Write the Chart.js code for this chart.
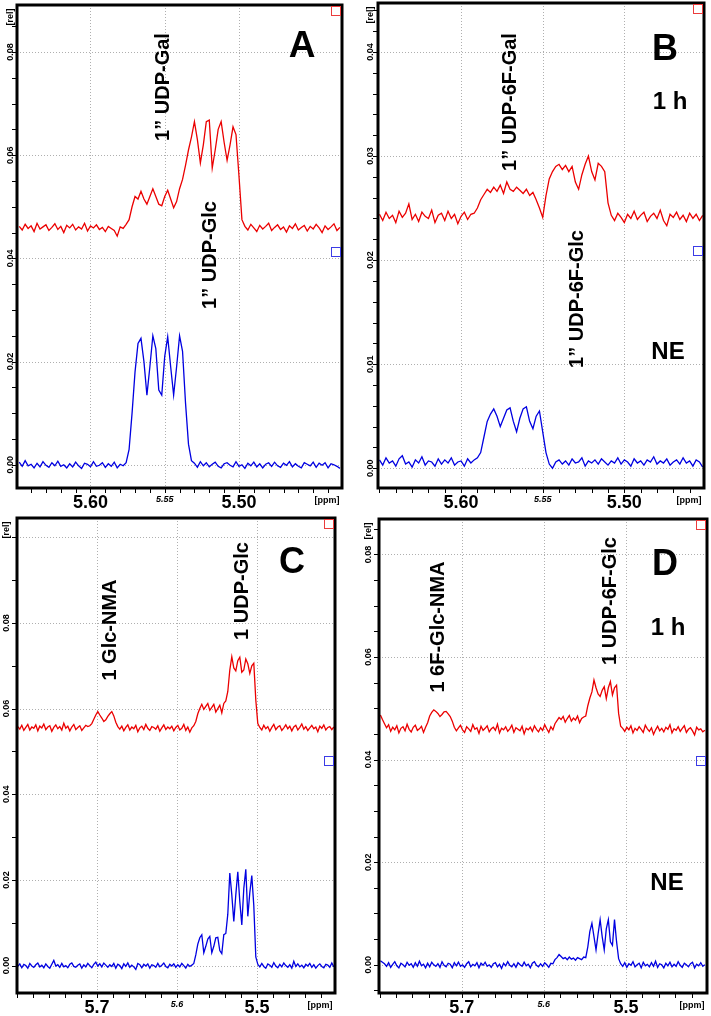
<!DOCTYPE html>
<html>
<head>
<meta charset="utf-8">
<script src="https://cdn.jsdelivr.net/npm/chart.js@4.4.1/dist/chart.umd.min.js"></script>
<style>
    body { margin: 0; background: #fff; }
    #wrap { position: relative; width: 711px; height: 1016px; }
    canvas { position: absolute; }
</style>
</head>
<body>
<div id="wrap">
    <canvas id="panelA" width="355" height="512" style="left:0;top:0"></canvas>
    <canvas id="panelB" width="356" height="512" style="left:355px;top:0"></canvas>
    <canvas id="panelC" width="355" height="504" style="left:0;top:512px"></canvas>
    <canvas id="panelD" width="356" height="504" style="left:355px;top:512px"></canvas>
</div>
<script>
// chemical shift of the first point [ppm] and point spacing, per panel
const ppmA = [5.648, 0.002];
const ppmB = [5.650, 0.002];
const ppmCD = [5.799, 0.0025];

// intensities in 1e-4 rel units
// A: red = 1 h sample, blue = reference
const redA = [
    462, 455, 466, 458, 463, 452, 468, 457, 461, 465, 454, 460, 467, 456, 462, 450, 464, 459, 466, 455,
    461, 457, 468, 453, 463, 459, 465, 456, 460, 452, 462, 458, 454, 443, 461, 458, 466,
    475, 500, 520, 515, 530, 515, 505, 520, 535, 520, 505, 502, 520, 532, 515, 498, 510, 535, 553,
    580, 610, 635, 665, 630, 585, 620, 665, 668, 575, 610, 650, 665, 625, 590, 620, 655, 640, 560, 475, 462,
    455, 466, 459, 452, 464, 457, 462, 468, 454, 460, 465, 456, 461, 451, 463, 458, 467, 455, 460, 464,
    453, 462, 457, 466, 459, 450, 463, 456, 461, 467, 454, 460
];
const blueA = [
    5, -3, 8, -2, 1, -6, 3, -4, 6, -1, -5, 4, -2, 7, -3, 0, -6, 2, -4, 5,
    -2, -7, 3, 1, -4, 6, -3, -1, 4, -5, 2, -3, 5, -6, 1, -2,
    4, 30, 100, 180, 235, 245, 200, 135, 190, 250, 225, 145, 135, 210, 248, 190, 135, 190, 250, 220, 120, 40, 8,
    3, -5, 6, -2, 4, -4, 1, 5, -3, -6, 2, 4, -1, -4, 6, -3, 0, -7, 3, -2,
    5, -4, 2, -6, 1, 4, -3, 5, -2, -5, 3, -1, 6, -4, 2, -3, -6, 4, 1, -2,
    5, -5, 3, -1, 4, -6, 2, 0, -3, -7
];

// B
const redB = [
    244, 238, 246, 240, 243, 236, 247, 241, 245, 254, 239, 244, 237, 246, 242, 240, 248, 236, 243, 245,
    238, 247, 240, 244, 235, 242, 246, 239, 244,
    245, 250, 258, 263, 268, 265, 270, 266, 272, 264, 275, 268, 266, 270, 267, 264, 268, 262, 265, 258,
    250, 241, 262, 278, 285, 290, 292, 287, 291, 285, 290, 275, 268, 282, 292, 300, 285, 277, 293, 290,
    285, 255, 243,
    238, 245, 241, 236, 244, 240, 247, 239, 243, 246, 237, 242, 245, 240, 248, 238, 233, 244, 241, 246,
    239, 243, 237, 245, 240, 244, 238, 243
];
const blueB = [
    8, 3, 10, 5, 7, 2, 9, 12, 4, 6, 1, 8, 5, 11, 3, 7, 6, 2, 9, 4,
    8, 5, 10, 3, 6, 7, 2, 9, 5, 8,
    10, 15, 30, 45, 52, 57, 50, 40, 48, 56, 58, 45, 35, 48, 57, 59, 45, 38, 50, 55, 35, 15, 4, 0, 6,
    8, 4, 7, 3, 9, 5, 6, 10, 2, 7, 5, 8, 4, 9, 6, 3, 7, 5, 10, 4,
    8, 6, 2, 9, 5, 7, 3, 8, 6, 11, 4, 7, 5, 9, 3, 6, 8, 4, 10, 5, 7, 2, 8, 6, 1
];

// C
const redC = [
    558, 552, 561, 549, 556, 563, 550, 557, 554, 562, 548, 559, 555, 564, 551, 557, 560, 547, 556, 562,
    553, 558, 550, 566, 554, 559, 548, 557, 563, 551, 556, 560, 549, 555, 561, 558,
    560, 565, 575, 585, 593, 585, 578, 570, 574, 582, 588, 593, 583, 568, 558,
    552, 559, 548, 556, 562, 550, 557, 553, 561, 546, 555, 559, 551, 563, 554, 549, 558, 556, 552, 560,
    547, 555, 562, 551, 557, 553, 559, 548, 556, 561, 550, 554, 563, 549, 557, 545, 555,
    560, 570, 588, 600, 610, 598, 605, 612, 596, 603, 610, 592, 600, 608, 590, 612, 618, 640, 690, 721,
    695, 688, 712, 720, 685, 690, 716, 705, 682, 700, 706, 620, 565, 556,
    550, 561, 553, 558, 547, 556, 563, 551, 557, 560, 549, 555, 562, 553, 559, 548, 557, 561, 550, 556,
    564, 552, 558, 549, 555, 561, 553, 557, 546, 559, 554, 562, 550, 556, 558, 551, 557
];
const blueC = [
    -2, 4, -5, 3, 0, -6, 5, -1, -4, 2, 6, -3, 1, -5, 4, -2, -6, 3, 12, -1,
    2, -4, 5, -3, 0, -5, 3, 6, -2, -4, 1, 4, -6, 2, -3, 5, 0, -5, 3, 8,
    -1, 4, -3, 6, 1, -4, 2, -2, 5, -6, 3, 0, -7, 4, -2, 6, -4, 1, -3, -9,
    5, 2, -5, 3, -1, 4, -6, 2, 0, -4, 5, -3, 1, 6, -2, -5, 3, -1, 4, -4,
    2, -3, 5, 0, -6, 3, -2, 1,
    5, 25, 50, 65, 72, 30, 45, 62, 68, 30, 45, 65, 66, 35, 28, 72, 75, 120, 216, 165,
    103, 165, 219, 150, 95, 180, 225, 115, 170, 210, 140, 20, 3,
    -3, 5, -2, -6, 4, 1, -4, 7, -1, -5, 3, -3, 6, 0, -4, 2, -6, 10, -2, 4,
    -3, 1, -5, 3, -1, 5, -4, 2, -6, 0, 4, -2, -5, 3, 1, -4, 6, -3
];

// D
const redD = [
    487, 478, 470, 462, 468, 455, 463, 458, 466, 452, 461, 464, 456, 469, 459, 454, 463, 467, 457, 460,
    465, 453,
    463, 472, 485, 492, 497, 494, 490, 484, 488, 493, 494, 489, 484, 475, 463,
    456, 462, 467, 458, 453, 464, 460, 455, 468, 459, 462, 451, 465, 457, 461, 466, 454, 460, 463, 457,
    469, 452, 461, 458, 464, 455, 460, 467, 453, 462, 459, 456, 465, 450, 461, 458, 463, 455, 466, 459,
    454, 462, 457, 468, 460, 453, 464, 458,
    470, 476, 482, 478, 484, 473, 480, 486, 475, 481, 477, 485, 472, 480, 483, 485,
    505, 520, 532, 555, 540, 528, 523, 535, 542, 519, 540, 552, 526, 540, 545, 490, 465, 461,
    455, 463, 458, 466, 452, 461, 457, 464, 459, 453, 467, 460, 455, 462, 449, 458, 465, 456, 461, 454,
    463, 459, 468, 452, 460, 457, 464, 455, 461, 466, 453, 459, 462, 456, 448, 463, 458, 460, 454, 457
];
const blueD = [
    8, 5, 2, -3, 4, -5, 1, 6, -2, -6, 3, 0, -4, 5, -1, 2, -5, 4, -3, 7,
    -2, 1, -6, 3, -4, 5, 0, -3, 2, -5, 6, -1, -4, 3, 1, -6, 4, -2, 5, -3,
    0, -5, 2, 6, -4, 1, -2, 4, -6, 3, -1, 5, -3, 0, -5, 2, 4, -4, 1, -7,
    3, -2, 6, -1, -4, 2, -5, 4, 0, -3, 5, -2, 1, -6, 3, 6, -1, -4, 2, -3,
    4, 0, -5, 3,
    2, 10, 14, 20, 16, 12, 14, 10, 15, 11, 13, 9, 14, 12, 10, 15, 14, 35, 65, 81,
    55, 29, 60, 88, 55, 29, 70, 88, 45, 38, 88, 45, 12, 2,
    -3, 4, -5, 2, -1, 6, -4, 0, 3, -6, 5, -2, 1, -4, 4, -3, 7, -5, 2, 0,
    -6, 3, -2, 5, -4, 1, -3, 6, -1, -5, 3, 0, -4, 2, 5, -6, 1, -2, 4, -3, 0
];

// axis tick labels
const xLabelsAB = ['5.60', '5.55', '5.50'];
const xLabelsCD = ['5.7', '5.6', '5.5'];
const yLabelsA = ['0.00', '0.02', '0.04', '0.06', '0.08'];
const yLabelsB = ['0.00', '0.01', '0.02', '0.03', '0.04'];
const yLabelsC = ['0.00', '0.02', '0.04', '0.06', '0.08'];
const yLabelsD = ['0.00', '0.02', '0.04', '0.06', '0.08'];

const RED = 'rgb(235, 0, 0)';
const BLUE = 'rgb(0, 0, 225)';
const GRID = 'rgb(175, 175, 175)';
const FONT = "'Liberation Sans', Arial, sans-serif";

// grid, ticks, frame, trace markers, axis texts and peak labels
function decor(p) {
    return {
        id: 'decor',
        beforeDatasetsDraw(chart) {
            const { ctx, chartArea: { left, top, right, bottom }, scales: { x, y } } = chart;
            ctx.save();
            ctx.beginPath();
            ctx.rect(left, top, right - left, bottom - top);
            ctx.clip();
            ctx.strokeStyle = GRID;
            ctx.lineWidth = 1;
            ctx.setLineDash([1, 2]);
            p.xLabels.forEach(t => {
                const px = Math.round(x.getPixelForValue(parseFloat(t))) + 0.5;
                ctx.beginPath(); ctx.moveTo(px, top); ctx.lineTo(px, bottom); ctx.stroke();
            });
            p.yGrid.forEach(v => {
                const py = Math.round(y.getPixelForValue(v)) + 0.5;
                ctx.beginPath(); ctx.moveTo(left, py); ctx.lineTo(right, py); ctx.stroke();
            });
            ctx.restore();
        },
        afterDraw(chart) {
            const { ctx, chartArea: { left, top, right, bottom }, scales: { x, y } } = chart;
            ctx.save();

            // tick marks outside the frame
            ctx.strokeStyle = '#000';
            ctx.lineWidth = 1;
            for (let k = Math.ceil(x.min / p.xStep - 1e-6); k * p.xStep <= x.max + 1e-9; k++) {
                const px = Math.round(x.getPixelForValue(k * p.xStep)) + 0.5;
                ctx.beginPath(); ctx.moveTo(px, bottom); ctx.lineTo(px, bottom + 5); ctx.stroke();
            }
            for (let k = Math.ceil(y.min / p.yStep - 1e-6); k * p.yStep <= y.max + 1e-9; k++) {
                const py = Math.round(y.getPixelForValue(k * p.yStep)) + 0.5;
                ctx.beginPath(); ctx.moveTo(left - 5, py); ctx.lineTo(left, py); ctx.stroke();
            }

            ctx.lineWidth = 3;
            ctx.strokeRect(left, top, right - left, bottom - top);

            ctx.lineWidth = 1;
            ctx.strokeStyle = 'rgb(235, 60, 60)';
            ctx.strokeRect(right - 10.5, top + 1.5, 9, 9);
            ctx.strokeStyle = 'rgb(60, 60, 230)';
            ctx.strokeRect(right - 10.5, Math.round((top + bottom) / 2) + 0.5, 9, 9);

            ctx.fillStyle = '#000';
            ctx.textAlign = 'center';
            ctx.textBaseline = 'middle';

            const rotText = (txt, cx, cy) => {
                ctx.save();
                ctx.translate(cx, cy);
                ctx.rotate(-Math.PI / 2);
                ctx.fillText(txt, 0, 0);
                ctx.restore();
            };

            // y labels
            ctx.font = `bold 9px ${FONT}`;
            p.yLabels.forEach(t => rotText(t, left - p.yLabelGap, y.getPixelForValue(parseFloat(t))));
            rotText('[rel]', left - p.yLabelGap, top + 12);

            // x labels
            p.xLabels.forEach((t, i) => {
                const px = x.getPixelForValue(parseFloat(t));
                if (i === 1) {
                    ctx.font = `italic bold 9px ${FONT}`;
                    ctx.fillText(t, px, bottom + 12);
                } else {
                    ctx.font = `bold 18px ${FONT}`;
                    ctx.fillText(t, px, bottom + 15);
                }
            });
            ctx.font = `bold 9px ${FONT}`;
            ctx.fillText('[ppm]', right - 15, bottom + 13);

            // annotations
            p.notes.forEach(n => {
                ctx.font = `bold ${n.size}px ${FONT}`;
                if (n.rot) rotText(n.text, n.x, n.y);
                else ctx.fillText(n.text, n.x, n.y);
            });
            ctx.restore();
        }
    };
}

function spectrum(id, p) {
    const toXY = vals => vals.map((v, i) => ({ x: +(p.ppm[0] - i * p.ppm[1]).toFixed(4), y: v / 1e4 }));
    return new Chart(document.getElementById(id), {
        type: 'line',
        data: {
            datasets: [
                { data: toXY(p.red), borderColor: RED, borderWidth: 1.3, pointRadius: 0, tension: 0 },
                { data: toXY(p.blue), borderColor: BLUE, borderWidth: 1.3, pointRadius: 0, tension: 0 }
            ]
        },
        options: {
            responsive: false,
            animation: false,
            devicePixelRatio: 1,
            events: [],
            layout: { padding: { left: 0, top: p.padTop, right: p.padRight, bottom: 0 } },
            plugins: { legend: { display: false }, tooltip: { enabled: false } },
            scales: {
                x: {
                    type: 'linear',
                    reverse: true,
                    min: p.xMin,
                    max: p.xMax,
                    afterFit: s => { s.height = p.xHeight; },
                    ticks: { display: false },
                    grid: { display: false },
                    border: { display: false }
                },
                y: {
                    type: 'linear',
                    min: p.yMin,
                    max: p.yMax,
                    afterFit: s => { s.width = p.yWidth; },
                    ticks: { display: false },
                    grid: { display: false },
                    border: { display: false }
                }
            }
        },
        plugins: [decor(p)]
    });
}

spectrum('panelA', {
    ppm: ppmA, red: redA, blue: blueA,
    xMin: 5.4306, xMax: 5.6495, xStep: 0.01, xLabels: xLabelsAB,
    yMin: -0.0045, yMax: 0.0891, yStep: 0.005, yLabels: yLabelsA,
    yGrid: [0, 0.02, 0.04, 0.06, 0.08],
    yWidth: 17, padTop: 5, padRight: 13, xHeight: 24, yLabelGap: 6,
    notes: [
        { text: 'A', x: 302, y: 47, size: 37 },
        { text: '1\u201D UDP-Gal', x: 163, y: 87, size: 20, rot: true },
        { text: '1\u201D UDP-Glc', x: 210, y: 255, size: 20, rot: true }
    ]
});

spectrum('panelB', {
    ppm: ppmB, red: redB, blue: blueB,
    xMin: 5.4512, xMax: 5.6509, xStep: 0.01, xLabels: xLabelsAB,
    yMin: -0.0019, yMax: 0.0447, yStep: 0.002, yLabels: yLabelsB,
    yGrid: [0, 0.01, 0.02, 0.03, 0.04],
    yWidth: 23, padTop: 3, padRight: 7, xHeight: 24, yLabelGap: 7.5,
    notes: [
        { text: 'B', x: 310, y: 50, size: 36 },
        { text: '1 h', x: 315, y: 102, size: 24 },
        { text: '1\u201D UDP-6F-Gal', x: 155, y: 102, size: 20, rot: true },
        { text: '1\u201D UDP-6F-Glc', x: 222, y: 299, size: 20, rot: true },
        { text: 'NE', x: 313, y: 352, size: 24 }
    ]
});

spectrum('panelC', {
    ppm: ppmCD, red: redC, blue: blueC,
    xMin: 5.4025, xMax: 5.80, xStep: 0.02, xLabels: xLabelsCD,
    yMin: -0.0064, yMax: 0.1045, yStep: 0.01, yLabels: yLabelsC,
    yGrid: [0, 0.02, 0.04, 0.06, 0.08, 0.10],
    yWidth: 17, padTop: 6, padRight: 20, xHeight: 23, yLabelGap: 10,
    notes: [
        { text: 'C', x: 292, y: 51, size: 36 },
        { text: '1 Glc-NMA', x: 110, y: 118, size: 20, rot: true },
        { text: '1 UDP-Glc', x: 242, y: 79, size: 20, rot: true }
    ]
});

spectrum('panelD', {
    ppm: ppmCD, red: redD, blue: blueD,
    xMin: 5.4014, xMax: 5.8007, xStep: 0.02, xLabels: xLabelsCD,
    yMin: -0.0055, yMax: 0.0869, yStep: 0.005, yLabels: yLabelsD,
    yGrid: [0, 0.02, 0.04, 0.06, 0.08],
    yWidth: 24, padTop: 7, padRight: 4, xHeight: 23, yLabelGap: 10,
    notes: [
        { text: 'D', x: 310, y: 53, size: 36 },
        { text: '1 h', x: 313, y: 116, size: 24 },
        { text: '1 6F-Glc-NMA', x: 83, y: 115, size: 20, rot: true },
        { text: '1 UDP-6F-Glc', x: 255, y: 89, size: 20, rot: true },
        { text: 'NE', x: 312, y: 371, size: 24 }
    ]
});
</script>
</body>
</html>
